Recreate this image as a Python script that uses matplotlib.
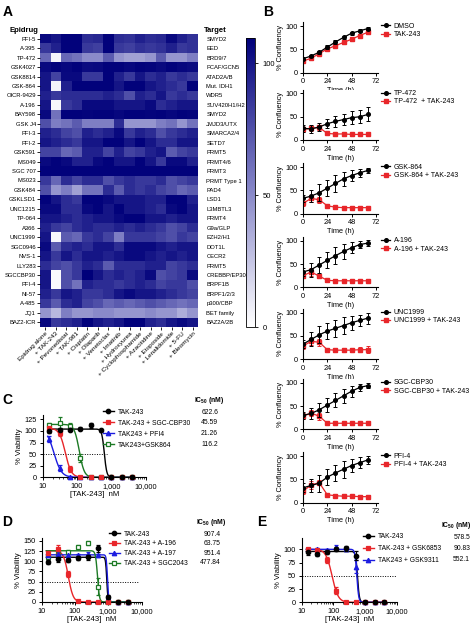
import matplotlib
matplotlib.use("Agg")
import matplotlib.pyplot as plt
import numpy as np
from matplotlib.colors import LinearSegmentedColormap
from matplotlib.lines import Line2D

plt.rcParams["font.family"] = ["Liberation Sans", "DejaVu Sans"]
plt.rcParams["mathtext.fontset"] = "custom"
plt.rcParams["mathtext.rm"] = "Liberation Sans"
plt.rcParams["mathtext.bf"] = "Liberation Sans:bold"
plt.rcParams["axes.linewidth"] = 0.8
plt.rcParams["xtick.major.width"] = 0.7
plt.rcParams["ytick.major.width"] = 0.7
plt.rcParams["xtick.major.size"] = 2.5
plt.rcParams["ytick.major.size"] = 2.5

W, H = 474, 625
FS = 5.3
LFS = 4.9  # legend / IC50 text size

# ---------------- Panel A data ----------------
epidrugs = ["PFI-5", "A-395", "TP-472", "GSK4027", "GSK8814", "GSK-864", "OICR-9429",
            "A-196", "BAY598", "GSK J4", "PFI-3", "PFI-2", "GSK591", "MS049", "SGC 707",
            "MS023", "GSK484", "GSKLSD1", "UNC1215", "TP-064", "A366", "UNC1999",
            "SGC0946", "NVS-1", "LLY283", "SGCCBP30", "PFI-4", "NI-57", "A-485", "JQ1",
            "BAZ2-ICR"]
targets = ["SMYD2", "EED", "BRD9/7", "PCAF/GCN5", "ATAD2A/B", "Mut. IDH1", "WDR5",
           "SUV420H1/H2", "SMYD2", "JMJD3/UTX", "SMARCA2/4", "SETD7", "PRMT5", "PRMT4/6",
           "PRMT3", "PRMT Type 1", "PAD4", "LSD1", "L3MBTL3", "PRMT4", "G9a/GLP", "EZH2/H1",
           "DOT1L", "CECR2", "PRMT5", "CREBBP/EP300", "BRPF1B", "BRPF1/2/3", "p300/CBP",
           "BET family", "BAZ2A/2B"]
treatments = ["Epidrug alone", "+ TAK-243", "+ Pevonedistat", "+ TAK-981", "+ Cisplatin",
              "+ Olaparib", "+ Venetoclax", "+ Imatinib", "+ Hydroxyurea",
              "+ Cyclophosphamide", "+ Azacitidine", "+ Etoposide", "+ Lenalidomide",
              "+ 5-FU", "+ Bleomycin"]
viability = [
    [105, 100, 108, 108, 90, 92, 108, 90, 88, 95, 90, 92, 105, 95, 88],
    [85, 95, 108, 108, 85, 82, 108, 85, 82, 88, 85, 88, 95, 85, 88],
    [65, 5, 65, 60, 50, 50, 70, 45, 40, 40, 45, 70, 45, 45, 55],
    [105, 108, 106, 108, 104, 105, 108, 108, 106, 108, 107, 105, 108, 106, 104],
    [100, 80, 105, 105, 85, 85, 108, 95, 85, 100, 90, 95, 85, 90, 85],
    [100, 5, 95, 108, 108, 108, 108, 100, 108, 108, 100, 95, 90, 85, 108],
    [95, 85, 90, 90, 90, 90, 95, 90, 75, 95, 90, 100, 85, 90, 85],
    [100, 3, 85, 90, 105, 105, 105, 100, 100, 100, 105, 90, 95, 100, 100],
    [105, 60, 108, 108, 107, 108, 108, 106, 108, 108, 107, 108, 106, 108, 107],
    [75, 55, 60, 70, 55, 55, 55, 90, 45, 45, 45, 55, 60, 45, 60],
    [95, 90, 80, 75, 95, 90, 95, 105, 85, 95, 90, 75, 85, 90, 95],
    [100, 95, 90, 85, 100, 100, 108, 108, 100, 108, 100, 90, 90, 100, 100],
    [80, 80, 65, 70, 95, 95, 80, 95, 80, 85, 95, 100, 70, 80, 85],
    [105, 108, 105, 95, 95, 105, 108, 100, 100, 108, 100, 85, 105, 105, 95],
    [108, 108, 108, 108, 108, 108, 108, 108, 108, 108, 108, 108, 108, 108, 108],
    [85, 65, 90, 80, 90, 90, 75, 85, 90, 85, 85, 90, 75, 80, 85],
    [75, 45, 55, 40, 60, 60, 90, 70, 90, 85, 90, 80, 75, 65, 70],
    [108, 100, 90, 85, 108, 108, 105, 100, 100, 100, 95, 95, 108, 108, 95],
    [105, 105, 90, 90, 105, 108, 100, 108, 100, 100, 95, 90, 105, 108, 100],
    [100, 100, 95, 90, 95, 100, 100, 105, 108, 108, 100, 100, 95, 100, 100],
    [95, 85, 80, 90, 95, 90, 90, 95, 90, 95, 90, 85, 75, 80, 90],
    [100, 3, 70, 65, 85, 90, 80, 55, 85, 85, 85, 80, 75, 85, 80],
    [105, 70, 90, 95, 90, 100, 100, 90, 105, 105, 105, 100, 95, 100, 100],
    [100, 85, 100, 90, 100, 100, 95, 100, 105, 105, 100, 95, 100, 95, 100],
    [90, 80, 75, 85, 95, 90, 70, 90, 90, 90, 95, 95, 80, 85, 90],
    [100, 2, 75, 85, 110, 100, 90, 95, 90, 95, 105, 75, 80, 85, 105],
    [100, 2, 75, 60, 95, 90, 90, 85, 90, 95, 90, 80, 85, 85, 75],
    [95, 85, 100, 95, 85, 85, 90, 100, 105, 100, 100, 95, 90, 85, 80],
    [85, 70, 90, 95, 80, 75, 65, 70, 65, 70, 75, 70, 65, 60, 65],
    [45, 30, 55, 45, 45, 50, 50, 45, 45, 45, 50, 45, 45, 35, 45],
    [105, 85, 90, 95, 108, 100, 95, 100, 108, 108, 95, 90, 100, 105, 100],
]

# ---------------- Panel B data ----------------
time_h = [0, 8, 16, 24, 32, 40, 48, 56, 64]
b_names = [("DMSO", "TAK-243"), ("TP-472", "TP-472  + TAK-243"),
           ("GSK-864", "GSK-864 + TAK-243"), ("A-196", "A-196 + TAK-243"),
           ("UNC1999", "UNC1999 + TAK-243"), ("SGC-CBP30", "SGC-CBP30 + TAK-243"),
           ("PFI-4", "PFI-4 + TAK-243")]
b_black_mean = [
    [30, 36, 44, 55, 66, 76, 85, 90, 95],
    [25, 24, 28, 35, 40, 44, 48, 50, 55],
    [33, 38, 45, 55, 65, 75, 82, 88, 93],
    [33, 38, 48, 58, 68, 77, 85, 92, 95],
    [32, 42, 52, 60, 66, 72, 78, 83, 88],
    [30, 34, 42, 52, 62, 72, 82, 90, 94],
    [32, 37, 42, 55, 64, 72, 80, 86, 92],
]
b_black_err = [
    [3, 3, 3, 4, 4, 4, 3, 3, 3],
    [8, 8, 8, 10, 12, 12, 14, 14, 15],
    [8, 12, 18, 18, 18, 15, 12, 8, 5],
    [8, 15, 18, 17, 18, 17, 12, 8, 6],
    [8, 15, 18, 18, 18, 18, 15, 12, 12],
    [8, 12, 15, 15, 15, 15, 12, 8, 5],
    [10, 15, 18, 18, 18, 18, 15, 12, 8],
]
b_red_mean = [
    [25, 31, 41, 51, 58, 65, 72, 80, 87],
    [23, 25, 27, 14, 13, 13, 12, 12, 12],
    [22, 33, 30, 17, 14, 13, 13, 13, 13],
    [25, 33, 24, 15, 14, 14, 14, 14, 14],
    [28, 38, 36, 20, 19, 19, 19, 20, 20],
    [28, 35, 28, 13, 13, 13, 13, 13, 13],
    [25, 38, 43, 17, 15, 14, 14, 13, 13],
]
b_red_err = [
    [3, 3, 3, 3, 3, 3, 3, 3, 3],
    [6, 5, 5, 2, 2, 2, 2, 2, 2],
    [5, 8, 6, 3, 3, 3, 3, 3, 3],
    [6, 8, 5, 3, 3, 3, 3, 3, 3],
    [6, 8, 8, 4, 4, 4, 5, 6, 7],
    [6, 6, 8, 3, 3, 3, 3, 3, 3],
    [6, 8, 6, 3, 3, 3, 3, 3, 3],
]

# ---------------- Panels C-E data ----------------
conc = [15.6, 31.25, 62.5, 125, 250, 500, 1000, 2000, 4000]

c_labels = ["TAK-243", "TAK-243 + SGC-CBP30", "TAK243 + PFI4", "TAK243+GSK864"]
c_ic50 = [622.6, 45.59, 21.26, 116.2]
c_ic50_text = ["622.6", "45.59", "21.26", "116.2"]
c_top = [104, 106, 105, 114]
c_hill = [12, 5, 4, 6]
c_mean = [[100, 103, 103, 105, 112, 101, 1, 1, 1],
          [106, 95, 18, 1, 0, 0, 0, 0, 0],
          [83, 20, 1, 0, 0, 0, 0, 0, 0],
          [113, 118, 110, 42, 1, 0, 0, 0, 0]]
c_err = [[4, 4, 4, 3, 6, 3, 1, 1, 1],
         [3, 5, 7, 2, 1, 1, 1, 1, 1],
         [6, 7, 2, 1, 1, 1, 1, 1, 1],
         [5, 12, 6, 8, 1, 1, 1, 1, 1]]

d_labels = ["TAK-243", "TAK-243 + A-196", "TAK-243 + A-197", "TAK-243 + SGC2043"]
d_ic50 = [907.4, 63.75, 951.4, 477.84]
d_ic50_text = ["907.4", "63.75", "951.4", "477.84"]
d_top = [110, 126, 116, 126]
d_hill = [25, 6, 25, 15]
d_mean = [[99, 105, 103, 107, 110, 132, 13, 0, 0],
          [120, 130, 69, 3, 0, 0, 0, 0, 0],
          [115, 118, 115, 115, 118, 115, 10, 0, 0],
          [111, 118, 124, 136, 144, 38, 0, 0, 0]]
d_err = [[5, 6, 5, 5, 6, 8, 5, 1, 1],
         [6, 10, 8, 2, 1, 1, 1, 1, 1],
         [4, 4, 4, 4, 4, 4, 4, 1, 1],
         [5, 5, 4, 5, 5, 20, 1, 1, 1]]

e_labels = ["TAK-243", "TAK-243 + GSK6853", "TAK243 + GSK9311"]
e_ic50 = [578.5, 90.83, 552.1]
e_ic50_text = ["578.5", "90.83", "552.1"]
e_top = [96, 100, 100]
e_hill = [15, 4.5, 15]
e_mean = [[94, 91, 95, 100, 102, 88, 0, 0, 0],
          [100, 98, 80, 22, 0, 0, 0, 0, 0],
          [100, 100, 98, 105, 100, 67, 0, 0, 0]]
e_err = [[4, 4, 4, 4, 5, 8, 1, 1, 1],
         [2, 2, 5, 6, 1, 1, 1, 1, 1],
         [2, 2, 3, 4, 4, 12, 1, 1, 1]]

RED = "#e8262a"
BLUE = "#1c1ce0"
GREEN = "#1d7a25"
dose_colors = ["black", RED, BLUE, GREEN]
dose_markers = ["o", "s", "^", "s"]


def add_ax(fig, left, top, width, height):
    return fig.add_axes([left / W, 1 - (top + height) / H, width / W, height / H])


def prism(ax):
    ax.spines["top"].set_visible(False)
    ax.spines["right"].set_visible(False)
    ax.tick_params(labelsize=FS, pad=1.5)


def hill_curve(x, top, ic50, hill):
    return top / (1 + (x / ic50) ** hill)


fig = plt.figure(figsize=(W / 100, H / 100), dpi=100)

# ---------------- Panel A ----------------
cmap = LinearSegmentedColormap.from_list("wb", ["#ffffff", "#7f7fc4", "#00007a"])
axA = add_ax(fig, 40, 34, 158, 293)
im = axA.imshow(np.array(viability), cmap=cmap, vmin=0, vmax=109.5, aspect="auto",
                interpolation="nearest")
axA.set_yticks(range(len(epidrugs)))
axA.set_yticklabels(epidrugs, fontsize=4.2)
axA.set_xticks(range(len(treatments)))
axA.set_xticklabels(treatments, fontsize=4.6, rotation=45, ha="right",
                    rotation_mode="anchor")
axA.tick_params(length=2, width=0.6, pad=1)
for s in axA.spines.values():
    s.set_visible(False)
axA2 = axA.twinx()
axA2.set_ylim(axA.get_ylim())
axA2.set_yticks(range(len(targets)))
axA2.set_yticklabels(targets, fontsize=4.2)
axA2.tick_params(length=0, pad=6)
for s in axA2.spines.values():
    s.set_visible(False)

cax = add_ax(fig, 246, 38, 9, 289)
cb = fig.colorbar(im, cax=cax, ticks=[0, 50, 100])
cb.outline.set_linewidth(0.6)
cax.tick_params(labelsize=5.5, length=2, width=0.6)

fig.text(10 / W, 1 - 31 / H, "Epidrug", fontsize=5.5, fontweight="bold", va="center")
fig.text(204 / W, 1 - 31 / H, "Target", fontsize=5.5, fontweight="bold", va="center")

# ---------------- Panel B ----------------
y0_px = [72.7, 140, 213.7, 287.3, 359, 429.3, 502.7]
for i in range(7):
    h = 46.5 * 1.08
    ax = add_ax(fig, 303, y0_px[i] - h, 75, h)
    prism(ax)
    ax.errorbar(time_h, b_black_mean[i], yerr=b_black_err[i], color="black", marker="o",
                ms=2.6, lw=0.9, elinewidth=0.7, capsize=1.5, capthick=0.7, zorder=3)
    ax.errorbar(time_h, b_red_mean[i], yerr=b_red_err[i], color=RED, marker="s",
                ms=2.4, lw=0.9, elinewidth=0.7, capsize=1.5, capthick=0.7, zorder=2)
    ax.set_xlim(0, 74)
    ax.set_ylim(0, 108)
    ax.set_xticks([0, 24, 48, 72])
    ax.set_yticks([0, 50, 100])
    ax.set_xlabel("Time (h)", fontsize=FS, labelpad=1.5)
    ax.set_ylabel("% Confluency", fontsize=FS, labelpad=1)
    handles = [Line2D([0], [0], color="black", marker="o", ms=2.6, lw=0.9),
               Line2D([0], [0], color=RED, marker="s", ms=2.4, lw=0.9)]
    fig.legend(handles, list(b_names[i]), loc="upper left",
               bbox_to_anchor=(381 / W, 1 - (y0_px[i] - 50) / H), frameon=False,
               fontsize=5.0, handlelength=1.3, handletextpad=0.5, borderpad=0,
               borderaxespad=0, labelspacing=0.2)


# ---------------- Panels C, D, E ----------------
def dose_panel(left, y0, width, ymax, px_per_unit, means, errs, tops, ic50s, hills,
               labels, ic50_text, yticks, hline_end, leg_x, leg_top, spacing,
               ic50_left, ic50_right, colors, markers):
    h = ymax * px_per_unit
    ax = add_ax(fig, left, y0 - h, width, h)
    prism(ax)
    ax.set_xscale("log")
    ax.set_xlim(10, 10000)
    ax.set_ylim(0, ymax)
    ax.set_yticks(yticks)
    ax.set_xticks([10, 100, 1000, 10000])
    ax.set_xticklabels(["10", "100", "1,000", "10,000"])
    ax.tick_params(which="minor", length=1.3, width=0.5)
    ax.hlines(50, 10.5, hline_end, colors="black", linestyles=(0, (1, 1.5)), lw=0.7)
    xs = np.logspace(np.log10(14), np.log10(4000), 300)
    for k in range(len(means)):
        c = colors[k]
        mfc = "white" if c == GREEN else c
        ax.plot(xs, hill_curve(xs, tops[k], ic50s[k], hills[k]), color=c, lw=1.0,
                zorder=2 + k * 0.1)
        ax.errorbar(conc, means[k], yerr=errs[k], fmt=markers[k], color=c, mfc=mfc,
                    ms=3.2, mew=0.9, elinewidth=0.8, capsize=1.5, capthick=0.8,
                    zorder=3 + (len(means) - k) * 0.1, clip_on=False)
    ax.set_xlabel("[TAK-243]  nM", fontsize=FS + 0.3, labelpad=1)
    ax.set_ylabel("% Viability", fontsize=FS + 0.3, labelpad=1)
    handles = []
    for k in range(len(means)):
        c = colors[k]
        mfc = "white" if c == GREEN else c
        handles.append(Line2D([0], [0], color=c, marker=markers[k], mfc=mfc, ms=3.2,
                              mew=0.9, lw=1.0))
    fig.legend(handles, labels, loc="upper left",
               bbox_to_anchor=(leg_x / W, 1 - leg_top / H), frameon=False,
               fontsize=LFS, handlelength=1.6, handletextpad=0.6, borderpad=0,
               borderaxespad=0, labelspacing=spacing)
    fig.text(ic50_left / W, 1 - (leg_top - 8) / H, r"$\mathbf{IC_{50}}$ (nM)",
             fontsize=LFS, fontweight="bold", va="center")
    row_h = LFS * 1.39 * (1 + spacing) * 0.985
    for k, t in enumerate(ic50_text):
        fig.text(ic50_right / W, 1 - (leg_top + 3.6 + k * row_h) / H, t,
                 fontsize=LFS, ha="right", va="center")
    return ax


dose_panel(42.7, 477.3, 103, 135, 0.464, c_mean, c_err, c_top, c_ic50, c_hill,
           c_labels, c_ic50_text, [0, 25, 50, 75, 100, 125], 750, 103, 408.5, 0.6,
           194, 218, dose_colors, dose_markers)
dose_panel(41.5, 602, 100, 157, 0.407, d_mean, d_err, d_top, d_ic50, d_hill,
           d_labels, d_ic50_text, [0, 25, 50, 75, 100, 125, 150], 8500, 109, 530.5, 0.42,
           196, 221, dose_colors, dose_markers)
dose_panel(301.7, 602.3, 95, 121, 0.53, e_mean, e_err, e_top, e_ic50, e_hill,
           e_labels, e_ic50_text, [0, 25, 50, 75, 100], 10000, 363, 533.5, 0.7,
           441, 470, ["black", RED, BLUE], ["o", "s", "^"])

# panel letters
for letter, x, y in [("A", 8, 12), ("B", 268, 12), ("C", 7, 400), ("D", 7, 522),
                     ("E", 262, 522)]:
    fig.text(x / W, 1 - y / H, letter, fontsize=10, fontweight="bold", va="center",
             ha="center")

fig.savefig("out.png", dpi=100)
